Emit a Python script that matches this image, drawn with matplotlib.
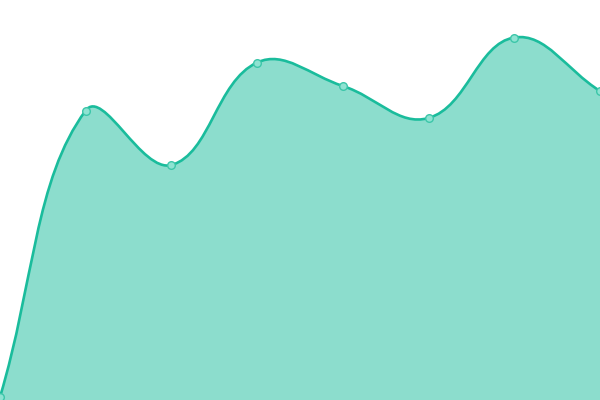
import matplotlib
matplotlib.use('Agg')
import matplotlib.pyplot as plt
import numpy as np
from matplotlib.path import Path
from matplotlib.patches import PathPatch

labels = ['1', '2', '3', '4', '5', '6', '7', '8']
values = [3, 289.5, 235, 337.5, 314, 282, 362.5, 309]

LINE = '#1abc9c'
FILL = (26/255, 188/255, 156/255, 0.5)


def spline_controls(px, py, tension=0.4):
    # chart.js style control points, computed in pixel space
    n = len(px)
    cps = []
    for i in range(n):
        p0 = (px[max(i - 1, 0)], py[max(i - 1, 0)])
        p1 = (px[i], py[i])
        p2 = (px[min(i + 1, n - 1)], py[min(i + 1, n - 1)])
        d01 = np.hypot(p1[0] - p0[0], p1[1] - p0[1])
        d12 = np.hypot(p2[0] - p1[0], p2[1] - p1[1])
        tot = d01 + d12
        s01 = d01 / tot if tot else 0
        s12 = d12 / tot if tot else 0
        fa, fb = tension * s01, tension * s12
        prev = (p1[0] - fa * (p2[0] - p0[0]), p1[1] - fa * (p2[1] - p0[1]))
        nxt = (p1[0] + fb * (p2[0] - p0[0]), p1[1] + fb * (p2[1] - p0[1]))
        cps.append((prev, nxt))
    return cps


fig = plt.figure(figsize=(6, 4), dpi=100)
ax = fig.add_axes([0, 0, 1, 1])
x = np.arange(len(values))
ax.set_xlim(0, len(values) - 1)
ax.set_ylim(0, 400)
ax.axis('off')

pts = ax.transData.transform(np.column_stack([x, values]))
cps = spline_controls(pts[:, 0], pts[:, 1])
inv = ax.transData.inverted()

verts = [tuple(pts[0])]
codes = [Path.MOVETO]
for i in range(len(pts) - 1):
    verts += [cps[i][1], cps[i + 1][0], tuple(pts[i + 1])]
    codes += [Path.CURVE4] * 3
verts = inv.transform(np.array(verts))

line_path = Path(verts, codes)
fill_verts = np.vstack([verts, [[x[-1], 0], [x[0], 0], verts[0]]])
fill_codes = codes + [Path.LINETO, Path.LINETO, Path.CLOSEPOLY]

ax.add_patch(PathPatch(Path(fill_verts, fill_codes), facecolor=FILL, edgecolor='none'))
ax.add_patch(PathPatch(line_path, facecolor='none', edgecolor=LINE, lw=1.9))
ax.plot(x, values, 'o', ms=5.5, mfc='#8ee3d2', mec='#3cc6a9', mew=1.0)

fig.savefig('out.png', dpi=100)
